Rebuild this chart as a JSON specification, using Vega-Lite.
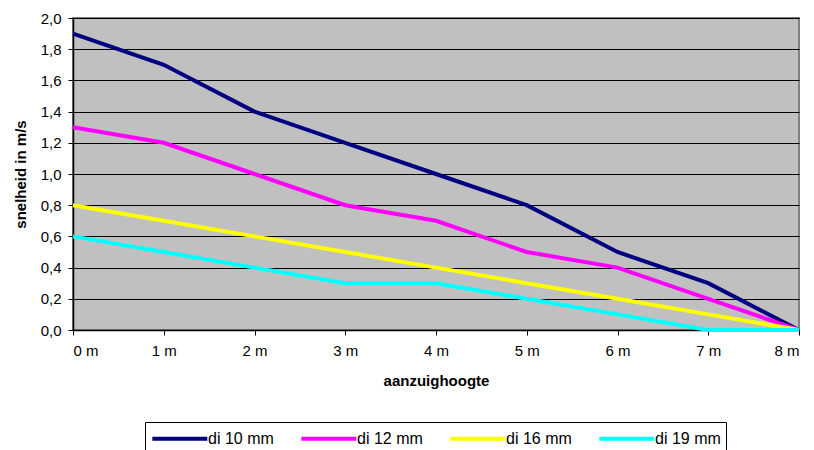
{
  "$schema": "https://vega.github.io/schema/vega-lite/v6.json",
  "autosize": "none",
  "width": 726,
  "height": 312,
  "padding": {"left": 73, "top": 18, "right": 15, "bottom": 120},
  "background": "white",
  "config": {
    "font": "Liberation Sans",
    "view": {"fill": "#C0C0C0", "stroke": "#808080", "strokeWidth": 2}
  },
  "data": {"values": [
    {"h": 0, "s": "di 10 mm", "v": 1.9}, {"h": 1, "s": "di 10 mm", "v": 1.7}, {"h": 2, "s": "di 10 mm", "v": 1.4}, {"h": 3, "s": "di 10 mm", "v": 1.2}, {"h": 4, "s": "di 10 mm", "v": 1.0}, {"h": 5, "s": "di 10 mm", "v": 0.8}, {"h": 6, "s": "di 10 mm", "v": 0.5}, {"h": 7, "s": "di 10 mm", "v": 0.3}, {"h": 8, "s": "di 10 mm", "v": 0.0},
    {"h": 0, "s": "di 12 mm", "v": 1.3}, {"h": 1, "s": "di 12 mm", "v": 1.2}, {"h": 2, "s": "di 12 mm", "v": 1.0}, {"h": 3, "s": "di 12 mm", "v": 0.8}, {"h": 4, "s": "di 12 mm", "v": 0.7}, {"h": 5, "s": "di 12 mm", "v": 0.5}, {"h": 6, "s": "di 12 mm", "v": 0.4}, {"h": 7, "s": "di 12 mm", "v": 0.2}, {"h": 8, "s": "di 12 mm", "v": 0.0},
    {"h": 0, "s": "di 16 mm", "v": 0.8}, {"h": 1, "s": "di 16 mm", "v": 0.7}, {"h": 2, "s": "di 16 mm", "v": 0.6}, {"h": 3, "s": "di 16 mm", "v": 0.5}, {"h": 4, "s": "di 16 mm", "v": 0.4}, {"h": 5, "s": "di 16 mm", "v": 0.3}, {"h": 6, "s": "di 16 mm", "v": 0.2}, {"h": 7, "s": "di 16 mm", "v": 0.1}, {"h": 8, "s": "di 16 mm", "v": 0.0},
    {"h": 0, "s": "di 19 mm", "v": 0.6}, {"h": 1, "s": "di 19 mm", "v": 0.5}, {"h": 2, "s": "di 19 mm", "v": 0.4}, {"h": 3, "s": "di 19 mm", "v": 0.3}, {"h": 4, "s": "di 19 mm", "v": 0.3}, {"h": 5, "s": "di 19 mm", "v": 0.2}, {"h": 6, "s": "di 19 mm", "v": 0.1}, {"h": 7, "s": "di 19 mm", "v": 0.0}, {"h": 8, "s": "di 19 mm", "v": 0.0}
  ]},
  "mark": {"type": "line", "strokeWidth": 4, "strokeJoin": "miter"},
  "encoding": {
    "x": {
      "field": "h", "type": "quantitative",
      "scale": {"domain": [0, 8], "nice": false, "zero": false},
      "axis": {
        "title": "aanzuighoogte", "titleFontSize": 15, "titleFontWeight": "bold", "titleColor": "black", "titlePadding": 15,
        "values": [0, 1, 2, 3, 4, 5, 6, 7, 8],
        "labelExpr": "datum.value + ' m'", "labelFontSize": 15, "labelColor": "black", "labelPadding": 8,
        "grid": false, "domainColor": "black", "domainWidth": 1.5, "tickColor": "black", "tickSize": 5
      }
    },
    "y": {
      "field": "v", "type": "quantitative",
      "scale": {"domain": [0, 2], "nice": false},
      "axis": {
        "title": "snelheid in m/s", "titleFontSize": 15, "titleFontWeight": "bold", "titleColor": "black", "titlePadding": 12,
        "values": [0, 0.2, 0.4, 0.6, 0.8, 1.0, 1.2, 1.4, 1.6, 1.8, 2.0],
        "labelExpr": "replace(format(datum.value, '.1f'), '.', ',')", "labelFontSize": 15, "labelColor": "black", "labelPadding": 7,
        "grid": true, "gridColor": "black", "gridOpacity": 1, "gridWidth": 1,
        "domainColor": "black", "domainWidth": 1.5, "tickColor": "black", "tickSize": 5
      }
    },
    "color": {
      "field": "s", "type": "nominal",
      "scale": {"domain": ["di 10 mm", "di 12 mm", "di 16 mm", "di 19 mm"], "range": ["#000080", "#FF00FF", "#FFFF00", "#00FFFF"]},
      "legend": {
        "title": null, "orient": "none", "legendX": 72, "legendY": 404, "direction": "horizontal", "columns": 4,
        "symbolType": "M-1,0H5", "symbolSize": 336, "symbolStrokeWidth": 4, "symbolOpacity": 1, "symbolFillColor": "transparent",
        "labelFontSize": 16, "labelColor": "black", "labelOffset": 35, "columnPadding": 19,
        "strokeColor": "black", "padding": 5, "fillColor": "white"
      }
    }
  }
}
